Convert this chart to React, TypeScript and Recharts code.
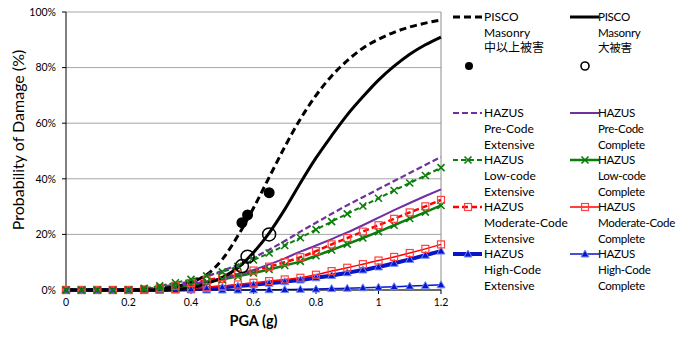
import React from 'react';
import { ComposedChart, Line, Scatter, XAxis, YAxis, CartesianGrid, ReferenceLine } from 'recharts';

// PGA (g) sample points
const pga = [0, 0.05, 0.1, 0.15, 0.2, 0.25, 0.3, 0.35, 0.4, 0.45, 0.5, 0.55, 0.6, 0.65, 0.7, 0.75, 0.8, 0.85, 0.9, 0.95, 1.0, 1.05, 1.1, 1.15, 1.2];

// PISCO masonry fragility curves (%)
const piscoModerate = [0, 0, 0, 0, 0, 0.1, 0.4, 1.2, 2.8, 5.5, 11, 19.5, 29.5, 40.5, 51.5, 61.5, 70, 77, 82.5, 87, 90.2, 92.7, 94.6, 96, 97.1];
const piscoHeavy = [0, 0, 0, 0, 0, 0, 0, 0.3, 0.8, 2.3, 4.5, 8, 13.5, 20.5, 29, 38.5, 47.5, 55.5, 63, 69.5, 75.5, 80.5, 84.8, 88.2, 91];

// HAZUS curves (%)
const preExt = [0, 0, 0, 0, 0.1, 0.4, 1, 2, 3.2, 4.9, 6.9, 9.1, 11.6, 14.5, 17.6, 21, 24.2, 27.4, 30.5, 33.4, 36.3, 39.2, 42.1, 45, 47.8];
const preComp = [0, 0, 0, 0, 0, 0.2, 0.6, 1.3, 2.2, 3.1, 4.2, 5.5, 7.2, 9.2, 11.4, 13.8, 16, 18.3, 20.7, 23.3, 26, 28.7, 31.3, 33.8, 36.2];
const lowExt = [0, 0, 0, 0, 0.1, 0.6, 1.5, 2.6, 3.8, 5.1, 6.5, 8.5, 10.8, 13.3, 16, 18.8, 21.7, 24.6, 27.4, 30.2, 33, 35.8, 38.5, 41.2, 44];
const lowComp = [0, 0, 0, 0, 0, 0.1, 0.5, 1.1, 1.9, 2.8, 3.8, 4.9, 6.1, 7.4, 8.8, 10.3, 12.3, 14.4, 16.5, 18.7, 21, 23.3, 25.7, 28, 30.4];
const modExt = [0, 0, 0, 0, 0, 0.2, 0.7, 1.5, 2.5, 3.5, 4.6, 5.7, 7, 8.4, 10, 11.8, 14, 16.4, 18.7, 21, 23.3, 25.6, 27.9, 30.1, 32.4];
const modComp = [0, 0, 0, 0, 0, 0, 0.1, 0.3, 0.6, 1, 1.4, 2, 2.6, 3.2, 3.8, 4.4, 5.5, 6.8, 8, 9.3, 10.6, 11.9, 13.3, 14.8, 16.4];
const highExt = [0, 0, 0, 0, 0, 0, 0, 0.1, 0.3, 0.6, 1, 1.4, 1.9, 2.4, 3, 3.6, 4.4, 5.2, 6.2, 7.2, 8.3, 9.6, 11, 12.5, 14];
const highComp = [0, 0, 0, 0, 0, 0, 0, 0, 0, 0, 0, 0, 0.05, 0.1, 0.15, 0.25, 0.35, 0.5, 0.65, 0.8, 1, 1.2, 1.4, 1.6, 1.85];

// observed damage ratios
const obsPga = [0.563, 0.581, 0.65];
const obsModerate = [24.2, 27, 35];
const obsHeavy = [8.6, 12, 20];

const xTicks = [0, 0.2, 0.4, 0.6, 0.8, 1, 1.2];
const yTicks = [0, 20, 40, 60, 80, 100];

const rows = pga.map((g, i) => ({
  g,
  piscoModerate: piscoModerate[i],
  piscoHeavy: piscoHeavy[i],
  preExt: preExt[i],
  preComp: preComp[i],
  lowExt: lowExt[i],
  lowComp: lowComp[i],
  modExt: modExt[i],
  modComp: modComp[i],
  highExt: highExt[i],
  highComp: highComp[i],
}));

const obs = obsPga.map((g, i) => ({ g, moderate: obsModerate[i], heavy: obsHeavy[i] }));

const PURPLE = '#7030a0';
const GREEN = '#0a7d0a';
const RED = '#ff0000';
const BLUE = '#0a14c8';
const FONT = 'Lato, "Noto Sans CJK JP", sans-serif';

const Tri = ({ cx, cy, s = 4 }: any) => (
  <path d={`M${cx},${cy - s} L${cx + s},${cy + s * 0.75} L${cx - s},${cy + s * 0.75} Z`} fill={BLUE} stroke="#6f8cff" strokeWidth={1} />
);
const Cross = ({ cx, cy, s = 3.5 }: any) => (
  <path d={`M${cx - s},${cy - s} L${cx + s},${cy + s} M${cx + s},${cy - s} L${cx - s},${cy + s}`} stroke={GREEN} strokeWidth={1.6} fill="none" />
);
const Sq = ({ cx, cy, s = 3.5 }: any) => (
  <rect x={cx - s} y={cy - s} width={s * 2} height={s * 2} fill="none" stroke="#ff4040" strokeWidth={1.2} />
);

const dotOf = (name: string, M: any) => (p: any) =>
  p.cx == null ? <g key={`${name}-${p.index}`} /> : <M key={`${name}-${p.index}`} cx={p.cx} cy={p.cy} />;

const legendItems = [
  { col: 0, y: 16.7, lines: ['PISCO', 'Masonry', '中以上被害'], sample: { stroke: '#000', w: 3, dash: '7 4' } },
  { col: 1, y: 16.7, lines: ['PISCO', 'Masonry', '大被害'], sample: { stroke: '#000', w: 3 } },
  { col: 0, y: 113.3, lines: ['HAZUS', 'Pre-Code', 'Extensive'], sample: { stroke: PURPLE, w: 2.2, dash: '6 3' } },
  { col: 1, y: 113.3, lines: ['HAZUS', 'Pre-Code', 'Complete'], sample: { stroke: PURPLE, w: 2 } },
  { col: 0, y: 160, lines: ['HAZUS', 'Low-code', 'Extensive'], sample: { stroke: GREEN, w: 2, dash: '5 3', M: Cross } },
  { col: 1, y: 160, lines: ['HAZUS', 'Low-code', 'Complete'], sample: { stroke: GREEN, w: 2.5, M: Cross } },
  { col: 0, y: 207, lines: ['HAZUS', 'Moderate-Code', 'Extensive'], sample: { stroke: RED, w: 2.5, dash: '6 3', M: Sq } },
  { col: 1, y: 207, lines: ['HAZUS', 'Moderate-Code', 'Complete'], sample: { stroke: RED, w: 1.5, M: Sq } },
  { col: 0, y: 254.3, lines: ['HAZUS', 'High-Code', 'Extensive'], sample: { stroke: BLUE, w: 4, M: Tri } },
  { col: 1, y: 254.3, lines: ['HAZUS', 'High-Code', 'Complete'], sample: { stroke: BLUE, w: 1.5, M: Tri } },
];

const colSample = [453, 570];
const colText = [484, 598];
const LH = 15.7;

function Legend() {
  return (
    <>
      {legendItems.map((it, i) => {
        const S = it.sample as any;
        return (
          <React.Fragment key={i}>
            <svg style={{ position: 'absolute', left: colSample[it.col], top: it.y - 6 }} width={29} height={12}>
              <line x1={0} y1={6} x2={29} y2={6} stroke={S.stroke} strokeWidth={S.w} strokeDasharray={S.dash} />
              {S.M ? <S.M cx={15} cy={6} /> : null}
            </svg>
            <div
              style={{
                position: 'absolute',
                left: colText[it.col],
                top: it.y - LH / 2,
                lineHeight: `${LH}px`,
                fontSize: it.col === 1 ? 11.6 : 12,
                letterSpacing: it.col === 1 ? -0.3 : 0,
                whiteSpace: 'nowrap',
                color: '#000',
              }}
            >
              {it.lines.map((t, j) => (
                <div key={j}>{t}</div>
              ))}
            </div>
          </React.Fragment>
        );
      })}
      <svg style={{ position: 'absolute', left: 460, top: 57 }} width={140} height={18}>
        <circle cx={9} cy={9} r={4} fill="#000" />
        <circle cx={125} cy={9} r={4} fill="none" stroke="#000" strokeWidth={1.6} />
      </svg>
    </>
  );
}

export default function App() {
  return (
    <div style={{ position: 'absolute', left: 0, top: 0, width: 678, height: 338, fontFamily: FONT, background: '#fff', overflow: 'hidden' }}>
      <ComposedChart width={678} height={338} data={rows} margin={{ top: 12, right: 237, bottom: 0, left: 0 }}>
        <CartesianGrid vertical={false} stroke="#a6a6a6" strokeWidth={1} />
        <ReferenceLine x={1.2} stroke="#8c8c8c" />
        <XAxis
          dataKey="g"
          type="number"
          domain={[0, 1.2]}
          ticks={xTicks}
          height={48}
          stroke="#000"
          tickSize={4}
          tickMargin={5}
          tick={{ fill: '#000', fontSize: 10.5, fontFamily: FONT }}
          label={{
            content: () => (
              <text x={253.5} y={326} textAnchor="middle" fontSize={14.5} fontWeight={700} fontFamily={FONT} fill="#000">PGA (g)</text>
            ),
          }}
        />
        <YAxis
          type="number"
          domain={[0, 100]}
          ticks={yTicks}
          width={66}
          stroke="#000"
          tickSize={4}
          tickMargin={6}
          tickFormatter={(v: number) => `${v}%`}
          tick={{ fill: '#000', fontSize: 10.5, fontFamily: FONT }}
          label={{
            content: () => (
              <text x={17} y={140} transform="rotate(-90 17 140)" textAnchor="middle" dominantBaseline="central" fontSize={16} fontFamily={FONT} fill="#000">
                Probability of Damage (%)
              </text>
            ),
          }}
        />
        <Line dataKey="highComp" type="monotone" stroke={BLUE} strokeWidth={1.5} dot={dotOf('hc', Tri)} isAnimationActive={false} />
        <Line dataKey="highExt" type="monotone" stroke={BLUE} strokeWidth={4} dot={dotOf('he', Tri)} isAnimationActive={false} />
        <Line dataKey="modComp" type="monotone" stroke={RED} strokeWidth={1.5} dot={dotOf('mc', Sq)} isAnimationActive={false} />
        <Line dataKey="lowComp" type="monotone" stroke={GREEN} strokeWidth={2.5} dot={dotOf('lc', Cross)} isAnimationActive={false} />
        <Line dataKey="modExt" type="monotone" stroke={RED} strokeWidth={2.5} strokeDasharray="6 3" dot={dotOf('me', Sq)} isAnimationActive={false} />
        <Line dataKey="preComp" type="monotone" stroke={PURPLE} strokeWidth={2} dot={false} isAnimationActive={false} />
        <Line dataKey="lowExt" type="monotone" stroke={GREEN} strokeWidth={2} strokeDasharray="5 3" dot={dotOf('le', Cross)} isAnimationActive={false} />
        <Line dataKey="preExt" type="monotone" stroke={PURPLE} strokeWidth={2.2} strokeDasharray="6 3" dot={false} isAnimationActive={false} />
        <Line dataKey="piscoHeavy" type="monotone" stroke="#000" strokeWidth={3} dot={false} isAnimationActive={false} />
        <Line dataKey="piscoModerate" type="monotone" stroke="#000" strokeWidth={3} strokeDasharray="7 4" dot={false} isAnimationActive={false} />
        <Scatter data={obs} dataKey="moderate" isAnimationActive={false} shape={(p: any) => <circle cx={p.cx} cy={p.cy} r={5.5} fill="#000" />} />
        <Scatter data={obs} dataKey="heavy" isAnimationActive={false} shape={(p: any) => <circle cx={p.cx} cy={p.cy} r={6.5} fill="none" stroke="#000" strokeWidth={1.5} />} />
      </ComposedChart>
      <Legend />
    </div>
  );
}
